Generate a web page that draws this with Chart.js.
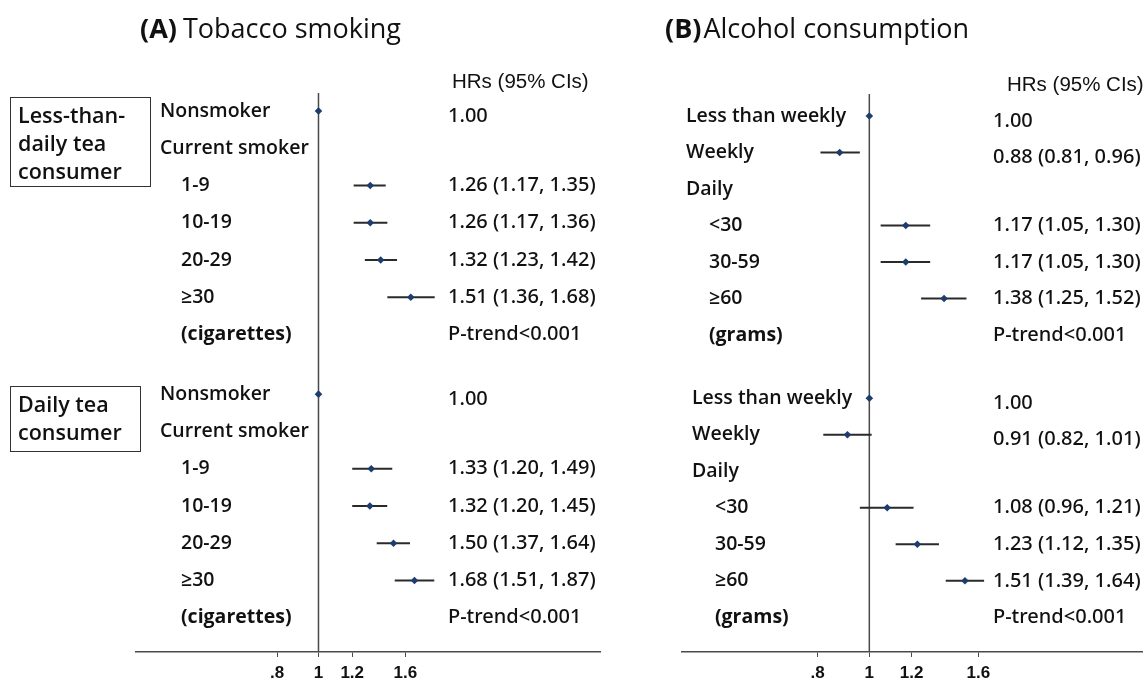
<!DOCTYPE html>
<html>
<head>
<meta charset="utf-8">
<script src="https://cdn.jsdelivr.net/npm/chart.js@4.4.1/dist/chart.umd.min.js"></script>
<style>
  html, body { margin: 0; padding: 0; background: #fff; }
  #wrap { position: relative; width: 1147px; height: 683px; }
  #wrap canvas { position: absolute; left: 0; top: 0; }
</style>
</head>
<body>
<div id="wrap">
  <canvas id="smoking" width="1147" height="683"></canvas>
  <canvas id="alcohol" width="1147" height="683"></canvas>
</div>
<script>
// ---- shared axis ticks ----
const xTickValues = [0.8, 1, 1.2, 1.6];
const xTickLabels = ['.8', '1', '1.2', '1.6'];
const pTrendText = 'P-trend<0.001';
const hrHeader = 'HRs (95% CIs)';

// ---- (A) tobacco smoking ----
const smokingLabels = ['Nonsmoker', 'Current smoker', '1-9', '10-19', '20-29', '\u226530', '(cigarettes)'];
const teaBoxLess = ['Less-than-', 'daily tea', 'consumer'];
const teaBoxDaily = ['Daily tea', 'consumer'];

const smokeLessDailyHR = [1.00, null, 1.26, 1.26, 1.32, 1.51];
const smokeLessDailyLo = [null, null, 1.17, 1.17, 1.23, 1.36];
const smokeLessDailyHi = [null, null, 1.35, 1.36, 1.42, 1.68];

const smokeDailyHR = [1.00, null, 1.33, 1.32, 1.50, 1.68];
const smokeDailyLo = [null, null, 1.20, 1.20, 1.37, 1.51];
const smokeDailyHi = [null, null, 1.49, 1.45, 1.64, 1.87];

// ---- (B) alcohol consumption ----
const alcoholLabels = ['Less than weekly', 'Weekly', 'Daily', '<30', '30-59', '\u226560', '(grams)'];

const alcLessDailyHR = [1.00, 0.88, null, 1.17, 1.17, 1.38];
const alcLessDailyLo = [null, 0.81, null, 1.05, 1.05, 1.25];
const alcLessDailyHi = [null, 0.96, null, 1.30, 1.30, 1.52];

const alcDailyHR = [1.00, 0.91, null, 1.08, 1.23, 1.51];
const alcDailyLo = [null, 0.82, null, 0.96, 1.12, 1.39];
const alcDailyHi = [null, 1.01, null, 1.21, 1.35, 1.64];

// ---- styling ----
const TEXT = '#111';
const MARKER = '#1c3d6e';
const CI_COLOR = '#2a2a2a';
const LINE_GREY = '#4a4a4a';
const SANS = '"Open Sans", "Noto Sans", "DejaVu Sans", sans-serif';
const SANS_MED = '"Noto Sans", "Open Sans", "DejaVu Sans", sans-serif';

function fmt(v) { return v.toFixed(2); }
function hrText(hr, lo, hi) {
  if (hr == null) return '';
  if (lo == null) return fmt(hr);
  return fmt(hr) + ' (' + fmt(lo) + ', ' + fmt(hi) + ')';
}

// builds marker + CI datasets for one block of rows
function blockDatasets(hr, lo, hi, rowStart, xAxisID) {
  const sets = [];
  hr.forEach((v, i) => {
    if (lo[i] != null) {
      sets.push({
        type: 'line', xAxisID, yAxisID: 'y',
        data: [{ x: lo[i], y: rowStart + i }, { x: hi[i], y: rowStart + i }],
        borderColor: CI_COLOR, borderWidth: 2, pointRadius: 0, order: 2
      });
    }
  });
  sets.push({
    type: 'scatter', xAxisID, yAxisID: 'y',
    data: hr.map((v, i) => v == null ? null : { x: v, y: rowStart + i }).filter(p => p),
    pointStyle: 'rectRot', pointRadius: 3.8, backgroundColor: MARKER, borderColor: MARKER,
    borderWidth: 0, order: 1
  });
  return sets;
}

function xAxis(min, max) {
  return {
    type: 'logarithmic', position: 'bottom', min, max,
    afterBuildTicks: s => { s.ticks = xTickValues.map(v => ({ value: v })); },
    afterFit: s => { s.height = 31; },
    ticks: {
      autoSkip: false, maxRotation: 0, padding: 6, color: TEXT,
      font: { family: '"Liberation Sans Narrow", "Liberation Sans", Arial, sans-serif', weight: 'bold', size: 17 },
      callback: (v, i) => xTickLabels[i]
    },
    grid: { drawOnChartArea: false, drawTicks: true, tickLength: 5, color: LINE_GREY, lineWidth: 1 },
    border: { display: true, color: LINE_GREY, width: 1.5 }
  };
}

// text, boxes and the null line at HR = 1
function panelPlugin(opt) {
  return {
    id: 'panelDecor',
    beforeDatasetsDraw(chart) {
      const { ctx, chartArea } = chart;
      const px = chart.scales.x.getPixelForValue(1);
      ctx.save();
      ctx.strokeStyle = LINE_GREY;
      ctx.lineWidth = 1.5;
      ctx.beginPath();
      ctx.moveTo(px, chartArea.top);
      ctx.lineTo(px, chartArea.bottom);
      ctx.stroke();
      ctx.restore();
    },
    afterDraw(chart) {
      const { ctx } = chart;
      const ys = chart.scales.y;
      ctx.save();
      ctx.fillStyle = TEXT;
      ctx.textBaseline = 'alphabetic';
      ctx.textAlign = 'left';

      // title
      ctx.font = 'bold 27px ' + SANS;
      ctx.fillText(opt.titleTag, opt.titleX, 38);
      const w = ctx.measureText(opt.titleTag).width;
      ctx.font = '27px ' + SANS;
      ctx.fillText(opt.titleText, opt.titleX + w + opt.titleGap, 38);

      // column header
      ctx.font = '20.5px "Liberation Sans", Arial, sans-serif';
      ctx.fillText(hrHeader, opt.headerX, opt.headerY);

      ctx.textBaseline = 'middle';
      opt.blocks.forEach(b => {
        opt.labels.forEach((lab, i) => {
          const y = ys.getPixelForValue(b.start + i);
          const bold = i === opt.labels.length - 1;
          ctx.font = (bold ? 'bold ' : '600 ') + '19.5px ' + SANS;
          const x = i < opt.topLevel ? b.labelX : b.labelX + opt.indent;
          ctx.fillText(lab, x, y);
        });
        ctx.font = '500 20px ' + SANS_MED;
        b.hr.forEach((v, i) => {
          const t = hrText(v, b.lo[i], b.hi[i]);
          if (t) ctx.fillText(t, opt.hrX, ys.getPixelForValue(b.start + i) + (i < 2 ? 5 : 0));
        });
        ctx.fillText(pTrendText, opt.hrX, ys.getPixelForValue(b.start + opt.labels.length - 1));

        if (b.box) {
          const bx = b.box;
          ctx.strokeStyle = '#333';
          ctx.lineWidth = 1;
          ctx.strokeRect(bx.x + 0.5, bx.y + 0.5, bx.w, bx.h);
          ctx.font = '600 21.5px ' + SANS;
          bx.lines.forEach((ln, k) => ctx.fillText(ln, bx.x + 8, bx.y + 20 + k * 28));
        }
      });
      ctx.restore();
    }
  };
}

const commonOpts = {
  responsive: false,
  animation: false,
  events: [],
  plugins: { legend: { display: false }, tooltip: { enabled: false } }
};

// ---- chart A ----
const smokeStarts = [0, 7.6];
new Chart(document.getElementById('smoking'), {
  type: 'scatter',
  data: {
    datasets: [
      ...blockDatasets(smokeLessDailyHR, smokeLessDailyLo, smokeLessDailyHi, smokeStarts[0], 'xUpper'),
      ...blockDatasets(smokeDailyHR, smokeDailyLo, smokeDailyHi, smokeStarts[1], 'x')
    ]
  },
  options: {
    ...commonOpts,
    layout: { padding: { left: 136, right: 547, top: 93, bottom: 0 } },
    scales: {
      x: xAxis(0.3729, 4.58),
      xUpper: { type: 'logarithmic', min: 0.4428, max: 3.514, display: false },
      y: { type: 'linear', min: -0.483, max: 14.52, reverse: true, display: false }
    }
  },
  plugins: [panelPlugin({
    titleTag: '(A)', titleText: 'Tobacco smoking', titleX: 140, titleGap: 6,
    headerX: 452, headerY: 88, hrX: 448, indent: 21, topLevel: 2,
    labels: smokingLabels,
    blocks: [
      { start: smokeStarts[0], labelX: 160, hr: smokeLessDailyHR, lo: smokeLessDailyLo, hi: smokeLessDailyHi,
        box: { x: 10, y: 97, w: 140, h: 89, lines: teaBoxLess } },
      { start: smokeStarts[1], labelX: 160, hr: smokeDailyHR, lo: smokeDailyLo, hi: smokeDailyHi,
        box: { x: 10, y: 386, w: 130, h: 65, lines: teaBoxDaily } }
    ]
  })]
});

// ---- chart B ----
const alcStarts = [0, 7.73];
new Chart(document.getElementById('alcohol'), {
  type: 'scatter',
  data: {
    datasets: [
      ...blockDatasets(alcLessDailyHR, alcLessDailyLo, alcLessDailyHi, alcStarts[0], 'x'),
      ...blockDatasets(alcDailyHR, alcDailyLo, alcDailyHi, alcStarts[1], 'x')
    ]
  },
  options: {
    ...commonOpts,
    layout: { padding: { left: 682, right: 5, top: 94, bottom: 0 } },
    scales: {
      x: xAxis(0.446, 3.239),
      y: { type: 'linear', min: -0.603, max: 14.68, reverse: true, display: false }
    }
  },
  plugins: [panelPlugin({
    titleTag: '(B)', titleText: 'Alcohol consumption', titleX: 665, titleGap: 2,
    headerX: 1007, headerY: 91, hrX: 993, indent: 23, topLevel: 3,
    labels: alcoholLabels,
    blocks: [
      { start: alcStarts[0], labelX: 686, hr: alcLessDailyHR, lo: alcLessDailyLo, hi: alcLessDailyHi },
      { start: alcStarts[1], labelX: 692, hr: alcDailyHR, lo: alcDailyLo, hi: alcDailyHi }
    ]
  })]
});
</script>
</body>
</html>
